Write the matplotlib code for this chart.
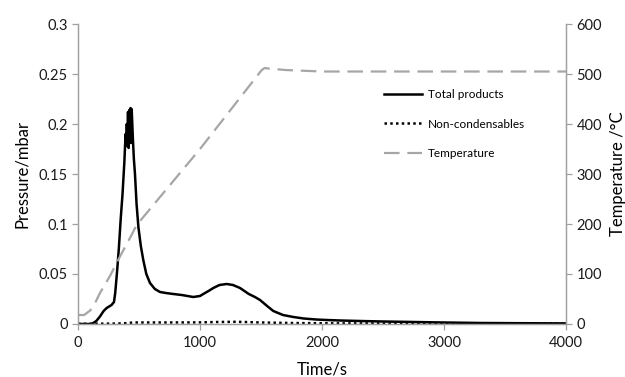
import matplotlib
matplotlib.use("Agg")
import matplotlib.pyplot as plt

plt.rcParams["font.family"] = ["Lato", "DejaVu Sans"]

# Total products (pressure, mbar)
t_total = [0, 60, 112, 150, 180, 210, 235, 275, 295, 305, 320, 335, 350, 365,
           380, 390, 395, 400, 405, 410, 415, 420, 425, 430, 435, 440, 445, 450,
           458, 467, 480, 495, 515, 535, 560, 590, 630, 672, 720, 781, 850, 945,
           1000, 1027, 1070, 1109, 1160, 1219, 1270, 1328, 1400, 1450, 1492,
           1550, 1601, 1680, 1765, 1850, 1950, 2038, 2150, 2311, 2500, 2750,
           3000, 3300, 3600, 4000]
p_total = [0.0, 0.0, 0.0, 0.003, 0.0075, 0.013, 0.016, 0.019, 0.022, 0.031,
           0.052, 0.076, 0.105, 0.130, 0.162, 0.190, 0.178, 0.200, 0.183, 0.212,
           0.176, 0.214, 0.190, 0.216, 0.181, 0.215, 0.200, 0.185, 0.165, 0.150,
           0.120, 0.097, 0.078, 0.064, 0.050, 0.041, 0.035, 0.032, 0.031, 0.030,
           0.029, 0.027, 0.028, 0.030, 0.033, 0.036, 0.039, 0.040, 0.039, 0.036,
           0.030, 0.027, 0.024, 0.018, 0.013, 0.009, 0.007, 0.0055, 0.0045,
           0.004, 0.0035, 0.003, 0.0025, 0.002, 0.0015, 0.001, 0.0008, 0.0006]

# Non-condensables (pressure, mbar)
t_noncond = [0, 300, 400, 450, 700, 1000, 1150, 1300, 1500, 1800, 2200, 3000, 4000]
p_noncond = [0.0002, 0.0004, 0.0008, 0.0015, 0.0015, 0.0016, 0.002, 0.0022,
             0.0015, 0.0009, 0.0006, 0.0004, 0.0003]

# Temperature (deg C)
t_temp = [0, 50, 100, 140, 180, 262, 344, 426, 481, 1000, 1506, 1530, 1560,
          1700, 2000, 3000, 4000]
temp = [18, 18, 27, 42, 62, 96, 135, 172, 198, 350, 508, 512, 511,
        508, 505, 505, 505]

GREY = "#a6a6a6"
AXGREY = "#a0a0a0"

fig = plt.figure(figsize=(6.25, 3.77), dpi=100)
ax = fig.add_axes([0.1248, 0.1406, 0.7808, 0.7957])
ax2 = ax.twinx()

ax.plot(t_total, p_total, color="black", lw=1.8, label="Total products")
ax.plot(t_noncond, p_noncond, color="black", lw=1.8, ls=(0, (1, 1.3)),
        label="Non-condensables")
ax2.plot(t_temp, temp, color=GREY, lw=1.6, ls=(0, (7, 3.5)), label="Temperature")

ax.set_xlim(0, 4000)
ax.set_ylim(0, 0.3)
ax2.set_ylim(0, 600)
ax.set_xticks([0, 1000, 2000, 3000, 4000])
ax.set_yticks([0, 0.05, 0.1, 0.15, 0.2, 0.25, 0.3])
ax.set_yticklabels(["0", "0.05", "0.1", "0.15", "0.2", "0.25", "0.3"])
ax2.set_yticks([0, 100, 200, 300, 400, 500, 600])

for a in (ax, ax2):
    a.spines["top"].set_visible(False)
    for s in ("left", "right", "bottom"):
        a.spines[s].set_color(AXGREY)
        a.spines[s].set_linewidth(0.9)
    a.tick_params(colors=AXGREY, labelcolor="#1a1a1a", labelsize=10.5,
                  length=4, width=0.9, direction="out")
ax.tick_params(axis="x", pad=5)

ax.set_xlabel("Time/s", fontsize=12, labelpad=8)
ax.set_ylabel("Pressure/mbar", fontsize=12, labelpad=6)
ax2.set_ylabel("Temperature /\u00b0C", fontsize=12, labelpad=6)

h1, l1 = ax.get_legend_handles_labels()
h2, l2 = ax2.get_legend_handles_labels()
ax2.legend(h1 + h2, l1 + l2, loc="upper left", bbox_to_anchor=(0.605, 0.82),
           frameon=False, fontsize=8.5, handlelength=3.2, labelspacing=1.6,
           handletextpad=0.5)

fig.savefig("out.png", dpi=100)
